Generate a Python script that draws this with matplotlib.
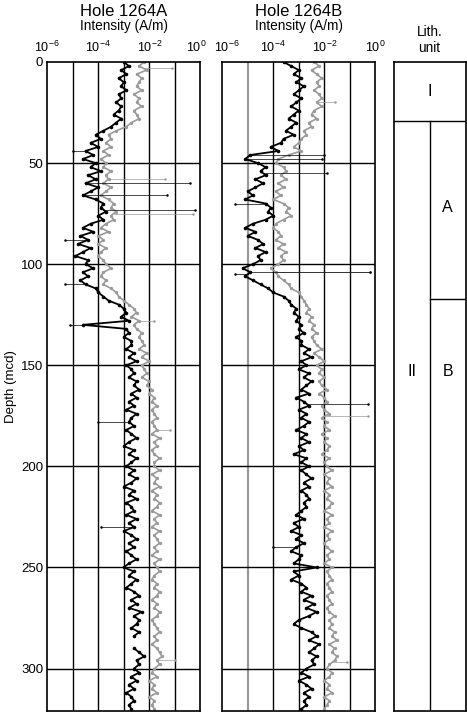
import numpy as np
import matplotlib
matplotlib.use("Agg")
import matplotlib.pyplot as plt
import matplotlib.transforms as mtransforms

plt.rcParams['font.family'] = ['Liberation Sans', 'DejaVu Sans']
plt.rcParams['mathtext.default'] = 'regular'

# Profondeurs (mcd), pas de 2 m
depth = np.arange(0, 322, 2)

# Intensités en log10(A/m)
a_black = [-3.0, -2.8, -3.1, -2.9, -3.2, -3.0, -3.1, -2.9, -3.2, -3.1,
           -3.3, -3.1, -3.2, -3.4, -3.1, -3.3, -3.5, -3.8, -4.1, -3.9,
           -4.3, -4.0, -4.5, -4.2, -4.6, -4.1, -4.3, -3.9, -4.4, -4.1,
           -4.5, -4.0, -4.3, -4.6, -4.1, -3.8, -3.9, -3.7, -4.0, -3.8,
           -4.3, -4.6, -4.2, -4.7, -4.4, -4.8, -4.3, -4.6, -4.9, -4.4,
           -4.5, -4.2, -4.6, -4.4, -4.7, -4.5, -4.1, -4.0, -3.8, -3.6,
           -3.2, -3.0, -2.9, -3.1, -2.8, -4.6, -2.9, -2.8, -3.0, -2.7,
           -2.7, -2.9, -2.6, -2.8, -2.5, -2.9, -2.7, -2.6, -2.8, -2.5,
           -2.6, -2.4, -2.7, -2.5, -2.8, -2.6, -2.9, -2.5, -2.7, -2.8,
           -2.6, -2.9, -2.7, -2.5, -2.8, -3.0, -2.6, -2.8, -2.5, -2.7,
           -2.9, -2.6, -2.8, -2.5, -2.7, -3.0, -2.6, -2.8, -2.5, -2.9,
           -2.7, -2.6, -2.9, -2.5, -2.8, -2.6, -3.0, -2.7, -2.5, -2.8,
           -2.6, -2.9, -2.7, -2.5, -2.8, -3.0, -2.6, -2.8, -2.5, -2.7,
           -2.9, -2.6, -2.4, -2.7, -2.5, -2.8, -2.3, -2.6, -2.4, -2.5,
           -2.7, -2.4, -2.6, np.nan, np.nan, -2.6, -2.4, -2.2, -2.5, -2.4,
           -2.6, -2.4, -2.7, -2.5, -2.8, -2.6, -2.9, -2.7, -2.6, -2.8, -2.7]

a_gray = [-2.2, -2.4, -2.1, -2.5, -2.3, -2.4, -2.5, -2.3, -2.6, -2.4,
          -2.5, -2.3, -2.6, -2.5, -2.4, -2.7, -2.9, -3.3, -3.6, -3.5,
          -3.7, -3.5, -3.8, -3.6, -3.9, -3.7, -3.8, -3.5, -3.7, -3.6,
          -3.8, -3.5, -3.7, -3.9, -3.6, -3.4, -3.5, -3.3, -3.5, -3.4,
          -3.7, -3.9, -3.6, -4.0, -3.8, -4.0, -3.7, -3.9, -4.0, -3.8,
          -3.7, -3.5, -3.8, -3.9, -3.7, -3.8, -3.5, -3.3, -3.2, -3.0,
          -2.8, -2.6, -2.5, -2.7, -2.4, -2.6, -2.5, -2.3, -2.4, -2.3,
          -2.2, -2.4, -2.1, -2.3, -2.0, -2.3, -2.2, -2.1, -2.3, -2.0,
          -2.1, -1.9, -2.0, -1.8, -1.9, -1.7, -1.9, -1.8, -1.7, -1.9,
          -1.8, -1.7, -1.9, -1.6, -1.8, -1.7, -1.9, -1.8, -1.6, -1.8,
          -1.8, -1.6, -1.9, -1.7, -1.8, -1.6, -1.9, -1.7, -1.8, -1.6,
          -1.7, -1.9, -1.6, -1.8, -1.7, -1.9, -1.6, -1.8, -1.7, -1.6,
          -1.8, -1.7, -1.9, -1.6, -1.8, -1.7, -1.6, -1.8, -1.9, -1.7,
          -1.8, -1.6, -1.7, -1.9, -1.7, -1.8, -1.6, -1.7, -1.9, -1.8,
          -1.7, -1.6, -1.8, -1.7, -1.9, -1.7, -1.6, -1.5, -1.7, -1.6,
          -1.8, -1.9, -1.7, -2.0, -1.8, -1.9, -1.7, -2.0, -1.8, -1.9, -1.8]

b_black = [-3.6, -3.3, -3.0, -3.2, -2.9, -3.1, -2.8, -3.0, -3.2, -2.9,
           -3.1, -3.3, -3.0, -3.2, -3.4, -3.1, -3.3, -3.5, -3.2, -3.6,
           -3.7, -4.1, -3.8, -4.9, -5.1, -4.6, -4.3, -4.5, -4.3, -4.7,
           -4.4, -4.7, -5.0, -4.8, -5.1, -4.3, -4.1, -4.2, -4.0, -4.3,
           -4.8, -5.1, -4.7, -5.0, -4.6, -4.4, -4.7, -4.3, -4.6, -4.5,
           -4.8, -5.2, -4.9, -5.1, -4.8, -4.5, -4.2, -4.0, -3.6, -3.4,
           -3.3, -3.1, -3.2, -3.0, -3.1, -2.9, -3.0, -2.8, -3.1, -2.9,
           -2.9, -2.6, -2.8, -2.5, -2.9, -2.7, -3.0, -2.6, -2.8, -2.5,
           -2.7, -2.9, -2.6, -3.1, -2.8, -2.6, -3.0, -2.7, -2.9, -2.6,
           -2.8, -3.1, -2.7, -2.9, -2.6, -3.0, -2.8, -3.2, -2.7, -2.9,
           -2.6, -2.9, -2.7, -2.5, -2.8, -2.6, -2.9, -2.7, -2.6, -2.8,
           -2.7, -2.9, -3.1, -2.8, -3.2, -3.0, -3.3, -2.9, -3.1, -2.8,
           -3.1, -3.3, -2.9, -3.0, -3.2, -2.3, -3.2, -3.0, -3.3, -2.9,
           -2.7, -2.9, -2.5, -2.8, -2.4, -2.7, -2.3, -2.6, -3.0, -3.2,
           -2.9, -2.5, -2.3, -2.6, -2.2, -2.4, -2.6, -2.3, -2.5, -2.4,
           -2.7, -2.9, -2.6, -3.0, -2.7, -2.5, -2.8, -2.6, -2.8, -2.7, -2.9]

b_gray = [-2.4, -2.2, -2.5, -2.3, -2.1, -2.3, -2.2, -2.4, -2.2, -2.1,
          -2.3, -2.1, -2.4, -2.5, -2.3, -2.6, -2.5, -2.8, -2.7, -2.9,
          -3.0, -3.2, -2.9, -3.4, -3.8, -3.9, -3.6, -3.5, -3.7, -3.5,
          -3.8, -3.6, -3.9, -3.7, -4.0, -3.6, -3.4, -3.5, -3.3, -3.6,
          -3.9, -4.0, -3.8, -3.7, -3.9, -3.6, -3.8, -3.5, -3.7, -3.6,
          -3.8, -4.1, -3.9, -3.8, -3.6, -3.4, -3.3, -3.0, -2.9, -2.8,
          -2.7, -2.6, -2.7, -2.5, -2.6, -2.4, -2.5, -2.3, -2.5, -2.4,
          -2.3, -2.1, -2.4, -2.2, -2.0, -2.3, -2.1, -2.2, -2.0, -2.2,
          -2.1, -1.9, -2.2, -2.0, -1.9, -2.1, -2.0, -1.8, -2.1, -1.9,
          -2.0, -1.8, -2.1, -1.9, -2.0, -1.8, -1.9, -2.1, -1.8, -2.0,
          -1.9, -1.7, -2.0, -1.8, -1.9, -1.7, -2.0, -1.8, -1.9, -1.7,
          -1.8, -2.0, -1.7, -1.9, -1.8, -2.0, -1.7, -1.9, -1.8, -2.0,
          -1.9, -1.7, -1.9, -1.8, -2.0, -1.7, -1.9, -1.8, -1.7, -1.9,
          -1.8, -1.7, -1.9, -1.8, -1.7, -1.9, -1.8, -1.6, -1.8, -1.7,
          -1.8, -1.6, -1.7, -1.5, -1.8, -1.6, -1.7, -1.5, -1.6, -1.8,
          -1.9, -1.7, -1.8, -2.0, -1.8, -1.9, -1.7, -2.0, -1.8, -1.9, -2.0]

# Valeurs isolées (flyers) : profondeur, log10(intensité)
a_black_fly_d = [60, 66, 73, 44, 88, 110, 130, 178, 230]
a_black_fly_v = [-0.4, -1.3, -0.2, -5.0, -5.3, -5.3, -5.1, -4.0, -3.9]
a_gray_fly_d = [3, 58, 75, 128, 182, 296]
a_gray_fly_v = [-1.1, -1.4, -0.3, -1.8, -1.2, -1.0]
b_black_fly_d = [46, 48, 55, 104, 169, 105, 70, 240]
b_black_fly_v = [-2.0, -2.1, -1.9, -0.2, -0.3, -5.5, -5.5, -4.0]
b_gray_fly_d = [104, 175, 297, 20]
b_gray_fly_v = [-0.2, -0.3, -1.1, -1.6]

# Unités lithologiques
unit_I_base = 29
subunit_A_base = 117

W, H = 467, 713
fig = plt.figure(figsize=(W / 100, H / 100), dpi=100)

depth_max = 321
grey = '#9a9a9a'


def panel(left, black, gray, fly, title, show_y, grid5):
    ax = fig.add_axes([left / W, 1 - 711 / H, 153 / W, 649 / H])
    gb = 10 ** np.array(gray)
    bb = 10 ** np.array(black)
    ax.plot(gb, depth, '-', color=grey, lw=1.2, marker='o', ms=2.4, mec='none', zorder=2)
    ax.plot(bb, depth, '-', color='black', lw=1.3, marker='o', ms=2.6, mec='none', zorder=3)
    for (fd, fv, col, base) in fly:
        base = np.array(base)
        ok = ~np.isnan(base)
        for d, v in zip(fd, fv):
            b0 = np.interp(d, depth[ok], base[ok])
            ax.plot([10 ** b0, 10 ** v], [d, d], '-', color=col, lw=0.5, zorder=3)
            ax.plot([10 ** v], [d], 'o', color=col, ms=1.8, mec='none', zorder=3)
    ax.set_xscale('log')
    ax.set_xlim(1e-6, 1)
    ax.set_ylim(depth_max, 0)
    for e in range(-5, 0):
        c = grid5 if e == -5 else 'black'
        ax.axvline(10.0 ** e, color=c, lw=1.0 if c == 'black' else 1.6, zorder=1)
    for d in range(50, 301, 50):
        ax.axhline(d, color='black', lw=1.0, zorder=1)
    ax.xaxis.set_ticks_position('top')
    ax.set_xticks([1e-6, 1e-4, 1e-2, 1])
    ax.set_xticklabels(['$10^{-6}$', '$10^{-4}$', '$10^{-2}$', '$10^{0}$'], fontsize=9)
    ax.xaxis.set_minor_locator(plt.NullLocator())
    ax.tick_params(axis='x', length=0, pad=5)
    ax.set_yticks(range(0, 301, 50))
    ax.tick_params(axis='y', length=0, pad=3, labelsize=9.5)
    if not show_y:
        ax.set_yticklabels([])
    else:
        ax.set_ylabel('Depth (mcd)', fontsize=9.5, labelpad=3)
    for s in ax.spines.values():
        s.set_linewidth(1.2)
    cx = (left + 76.5) / W
    fig.text(cx, 1 - 12 / H, title, ha='center', va='center', fontsize=12)
    fig.text(cx, 1 - 26 / H, 'Intensity (A/m)', ha='center', va='center', fontsize=9.8)
    return ax


ax_a = panel(47.3, a_black, a_gray,
             [(a_gray_fly_d, a_gray_fly_v, grey, a_gray),
              (a_black_fly_d, a_black_fly_v, 'black', a_black)],
             'Hole 1264A', True, 'black')
ax_b = panel(222.3, b_black, b_gray,
             [(b_gray_fly_d, b_gray_fly_v, grey, b_gray),
              (b_black_fly_d, b_black_fly_v, 'black', b_black)],
             'Hole 1264B', False, grey)
# écarter légèrement les étiquettes voisines 10^0 / 10^-6
lab = ax_a.get_xticklabels()[-1]
lab.set_transform(lab.get_transform() + mtransforms.ScaledTranslation(-3 / 72, 0, fig.dpi_scale_trans))
lab = ax_b.get_xticklabels()[0]
lab.set_transform(lab.get_transform() + mtransforms.ScaledTranslation(3 / 72, 0, fig.dpi_scale_trans))

# Colonne lithologique
axl = fig.add_axes([394 / W, 1 - 711 / H, 71.5 / W, 649 / H])
axl.set_xlim(0, 1)
axl.set_ylim(depth_max, 0)
axl.set_xticks([])
axl.set_yticks([])
for s in axl.spines.values():
    s.set_linewidth(1.2)
axl.axhline(unit_I_base, color='black', lw=1.0)
axl.plot([0.5, 0.5], [unit_I_base, depth_max], color='black', lw=1.0)
axl.plot([0.5, 1], [subunit_A_base, subunit_A_base], color='black', lw=1.0)
axl.text(0.5, unit_I_base / 2, 'I', ha='center', va='center', fontsize=11.5)
axl.text(0.25, 153, 'II', ha='center', va='center', fontsize=11.5)
axl.text(0.75, 72, 'A', ha='center', va='center', fontsize=11.5)
axl.text(0.75, 153, 'B', ha='center', va='center', fontsize=11.5)
fig.text(429.5 / W, 1 - 40 / H, 'Lith.\nunit', ha='center', va='center', fontsize=9.8,
         linespacing=1.1)

fig.savefig('out.png', dpi=100)
